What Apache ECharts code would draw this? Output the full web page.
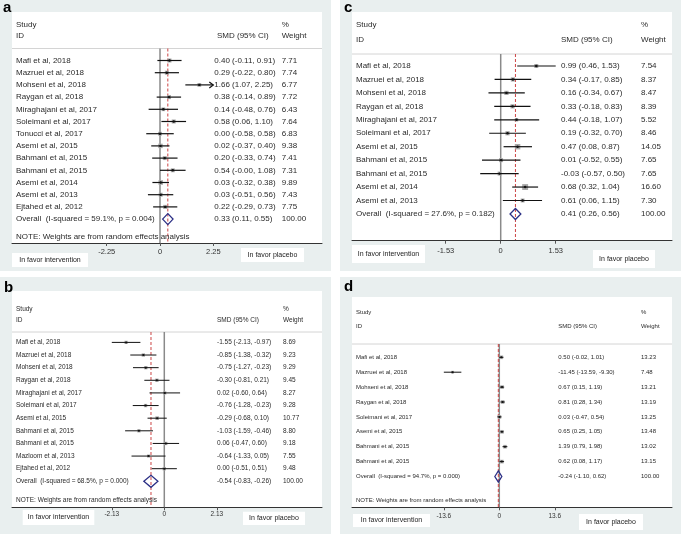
<!DOCTYPE html>
<html><head><meta charset="utf-8">
<script src="https://cdn.jsdelivr.net/npm/echarts@6/dist/echarts.min.js"></script>
<style>html,body{margin:0;padding:0;background:#fff}#c{width:681px;height:534px}</style>
</head><body><div id="c"></div>
<script>
// ---------- DATA ----------
const studiesA = ["Mafi et al, 2018","Mazruei et al, 2018","Mohseni et al, 2018","Raygan et al, 2018","Miraghajani et al, 2017","Soleimani et al, 2017","Tonucci et al, 2017","Asemi et al, 2015","Bahmani et al, 2015","Bahmani et al, 2015","Asemi et al, 2014","Asemi et al, 2013","Ejtahed et al, 2012"];
const smdA = [0.40,0.29,1.66,0.38,0.14,0.58,0.00,0.02,0.20,0.54,0.03,0.03,0.22];
const loA  = [-0.11,-0.22,1.07,-0.14,-0.48,0.06,-0.58,-0.37,-0.33,-0.00,-0.32,-0.51,-0.29];
const hiA  = [0.91,0.80,2.25,0.89,0.76,1.10,0.58,0.40,0.74,1.08,0.38,0.56,0.73];
const wA   = [7.71,7.74,6.77,7.72,6.43,7.64,6.83,9.38,7.41,7.31,9.89,7.43,7.75];
const overallA = [0.33,0.11,0.55];
const overallLabelA = "Overall  (I-squared = 59.1%, p = 0.004)";
const ticksA = [-2.25,0,2.25];

const studiesB = ["Mafi et al, 2018","Mazruei et al, 2018","Mohseni et al, 2018","Raygan et al, 2018","Miraghajani et al, 2017","Soleimani et al, 2017","Asemi et al, 2015","Bahmani et al, 2015","Bahmani et al, 2015","Mazloom et al, 2013","Ejtahed et al, 2012"];
const smdB = [-1.55,-0.85,-0.75,-0.30,0.02,-0.76,-0.29,-1.03,0.06,-0.64,0.00];
const loB  = [-2.13,-1.38,-1.27,-0.81,-0.60,-1.28,-0.68,-1.59,-0.47,-1.33,-0.51];
const hiB  = [-0.97,-0.32,-0.23,0.21,0.64,-0.23,0.10,-0.46,0.60,0.05,0.51];
const wB   = [8.69,9.23,9.29,9.45,8.27,9.28,10.77,8.80,9.18,7.55,9.48];
const overallB = [-0.54,-0.83,-0.26];
const overallLabelB = "Overall  (I-squared = 68.5%, p = 0.000)";
const ticksB = [-2.13,0,2.13];

const studiesC = ["Mafi et al, 2018","Mazruei et al, 2018","Mohseni et al, 2018","Raygan et al, 2018","Miraghajani et al, 2017","Soleimani et al, 2017","Asemi et al, 2015","Bahmani et al, 2015","Bahmani et al, 2015","Asemi et al, 2014","Asemi et al, 2013"];
const smdC = [0.99,0.34,0.16,0.33,0.44,0.19,0.47,0.01,-0.03,0.68,0.61];
const loC  = [0.46,-0.17,-0.34,-0.18,-0.18,-0.32,0.08,-0.52,-0.57,0.32,0.06];
const hiC  = [1.53,0.85,0.67,0.83,1.07,0.70,0.87,0.55,0.50,1.04,1.15];
const wC   = [7.54,8.37,8.47,8.39,5.52,8.46,14.05,7.65,7.65,16.60,7.30];
const overallC = [0.41,0.26,0.56];
const overallLabelC = "Overall  (I-squared = 27.6%, p = 0.182)";
const ticksC = [-1.53,0,1.53];

const studiesD = ["Mafi et al, 2018","Mazruei et al, 2018","Mohseni et al, 2018","Raygan et al, 2018","Soleimani et al, 2017","Asemi et al, 2015","Bahmani et al, 2015","Bahmani et al, 2015"];
const smdD = [0.50,-11.45,0.67,0.81,0.03,0.65,1.39,0.62];
const loD  = [-0.02,-13.59,0.15,0.28,-0.47,0.25,0.79,0.08];
const hiD  = [1.01,-9.30,1.19,1.34,0.54,1.05,1.98,1.17];
const wD   = [13.23,7.48,13.21,13.19,13.25,13.48,13.02,13.15];
const overallD = [-0.24,-1.10,0.62];
const overallLabelD = "Overall  (I-squared = 94.7%, p = 0.000)";
const ticksD = [-13.6,0,13.6];

const noteText = "NOTE: Weights are from random effects analysis";
const favLeft = "In favor intervention";
const favRight = "In favor placebo";

// ---------- LAYOUT ----------
const FONT = "Liberation Sans, Arial, sans-serif";
const panels = [
  {letter:'a', studies:studiesA, smd:smdA, lo:loA, hi:hiA, w:wA, ov:overallA, ovLabel:overallLabelA, ticks:ticksA, arrows:[2], note:true,
   L:{bg:[0,0,331,271], let:[3,8], box:[12,12,322,243], sepY:48.5, row0:60.5, step:12.2, zeroPx:160, mPx:53.3,
      nameX:16, smdX:214.3, smdHdrX:217, wX:281.7, h1:25, h2:36, font:8, tickFont:7.5, tickMargin:5, noteY:236.5,
      favL:[12,253,76,14], favR:[241,248,63,14], sq:1.45, dotR:1.2, lw:1.2, dH:5.5}},
  {letter:'b', studies:studiesB, smd:smdB, lo:loB, hi:hiB, w:wB, ov:overallB, ovLabel:overallLabelB, ticks:ticksB, arrows:[], note:true,
   L:{bg:[0,277,331,534], let:[4,288], box:[12,291,322,507.3], sepY:332, row0:342.4, step:12.63, zeroPx:164.3, mPx:52.5,
      nameX:16, smdX:217, smdHdrX:217, wX:283, h1:309, h2:320, font:6.5, tickFont:6.5, tickMargin:3, noteY:500.7,
      favL:[22.7,510,71.6,15], favR:[243,511.7,62,13.3], sq:1.1, dotR:1.0, lw:1.0, dH:6}},
  {letter:'c', studies:studiesC, smd:smdC, lo:loC, hi:hiC, w:wC, ov:overallC, ovLabel:overallLabelC, ticks:ticksC, arrows:[], note:false,
   L:{bg:[340,0,681,271], let:[344,8], box:[352,12,672,240.7], sepY:54, row0:66, step:13.45, zeroPx:500.7, mPx:55,
      nameX:356, smdX:561, smdHdrX:561, wX:641, h1:25, h2:39.3, font:8, tickFont:7.5, tickMargin:6,
      favL:[352,245,73,18], favR:[593,250,62,18], sq:1.45, dotR:1.2, lw:1.2, dH:5.5}},
  {letter:'d', studies:studiesD, smd:smdD, lo:loD, hi:hiD, w:wD, ov:overallD, ovLabel:overallLabelD, ticks:ticksD, arrows:[], note:true,
   L:{bg:[340,277,681,534], let:[344,287], box:[352,297,672,507.3], sepY:344, row0:357.3, step:14.9, zeroPx:499.3, mPx:55.5,
      nameX:356, smdX:558.3, smdHdrX:558.3, wX:641, h1:312.7, h2:326.7, font:6, tickFont:6.5, tickMargin:5, noteY:500,
      favL:[353,514,77,13], favR:[579,514,64,16], sq:1.0, dotR:1.0, lw:1.0, dH:5.5}}
];

const TXT = '#2a2a2a';
function f2(v){ if (Object.is(v,-0)) return '-0.00'; return v.toFixed(2); }
function txt(text,x,y,size,extra){
  return Object.assign({type:'text', x:x, y:y, z:5, style:{text:text, fill:TXT, fontSize:size, fontFamily:FONT, verticalAlign:'middle', align:'left'}}, extra||{});
}

const grids=[], xAxes=[], yAxes=[], series=[], graphics=[];

panels.forEach((P,pi)=>{
  const L=P.L;
  const M=P.ticks[2];
  const unit=L.mPx/M;
  const bx0=L.box[0], by0=L.box[1], bx1=L.box[2], by1=L.box[3];
  grids.push({left:bx0, top:L.sepY, width:bx1-bx0, height:by1-L.sepY});
  xAxes.push({type:'value', gridIndex:pi, z:6, min:(bx0-L.zeroPx)/unit, max:(bx1-L.zeroPx)/unit,
    axisLine:{show:true, onZero:false, lineStyle:{color:'#333', width:1}},
    axisTick:{show:true, customValues:P.ticks, length:3, inside:false, lineStyle:{color:'#555'}},
    axisLabel:{show:true, customValues:P.ticks, margin:L.tickMargin, fontSize:L.tickFont, fontFamily:FONT, color:'#333',
      formatter:v=>String(P.ticks.find(t=>Math.abs(t-v)<1e-6) ?? v)},
    splitLine:{show:false}});
  yAxes.push({type:'value', gridIndex:pi, inverse:true, show:false, splitLine:{show:false},
    axisLine:{show:false, onZero:false},
    min:(L.sepY-L.row0)/L.step, max:(by1-L.row0)/L.step});

  // backgrounds and decorations
  graphics.push({type:'rect', z:0, shape:{x:L.bg[0], y:L.bg[1], width:L.bg[2]-L.bg[0], height:L.bg[3]-L.bg[1]}, style:{fill:'#e9efef'}});
  graphics.push({type:'rect', z:1, shape:{x:bx0, y:by0, width:bx1-bx0, height:by1-by0}, style:{fill:'#ffffff'}});
  graphics.push({type:'line', z:2, shape:{x1:bx0, y1:L.sepY, x2:bx1, y2:L.sepY}, style:{stroke:'#d4d4d4', lineWidth:1}});
  graphics.push(txt(P.letter, L.let[0], L.let[1], 15, {style:{text:P.letter, fill:'#000', fontSize:15, fontWeight:'bold', fontFamily:FONT, verticalAlign:'middle', align:'left'}}));
  graphics.push(txt('Study', L.nameX, L.h1, L.font));
  graphics.push(txt('ID', L.nameX, L.h2, L.font));
  graphics.push(txt('SMD (95% CI)', L.smdHdrX, L.h2, L.font));
  graphics.push(txt('%', L.wX, L.h1, L.font));
  graphics.push(txt('Weight', L.wX, L.h2, L.font));
  if (P.note) graphics.push(txt(noteText, L.nameX, L.noteY, L.font));
  [[L.favL,favLeft],[L.favR,favRight]].forEach(([r,t])=>{
    graphics.push({type:'rect', z:2, shape:{x:r[0], y:r[1], width:r[2], height:r[3]}, style:{fill:'#ffffff'}});
    graphics.push({type:'text', z:5, x:r[0]+r[2]/2, y:r[1]+r[3]/2, style:{text:t, fill:'#222', fontSize:7, fontFamily:FONT, align:'center', verticalAlign:'middle'}});
  });

  // reference lines (zero + overall)
  series.push({type:'custom', xAxisIndex:pi, yAxisIndex:pi, z:3, silent:true,
    encode:{x:0, y:1},
    data:[[0,0,0],[P.ov[0],0,1]],
    renderItem:(params,api)=>{
      const x=api.coord([api.value(0),0])[0];
      const cs=params.coordSys;
      const isOv=api.value(2)===1;
      return {type:'line', shape:{x1:x, y1:cs.y, x2:x, y2:cs.y+cs.height},
        style: isOv ? {stroke:'#cc4444', lineWidth:1, lineDash:[3,2]} : {stroke:'#8a8a8a', lineWidth:1.5}};
    }});

  // studies
  const data=P.studies.map((s,i)=>[P.smd[i], i, P.lo[i], P.hi[i], P.w[i], i]);
  series.push({type:'custom', xAxisIndex:pi, yAxisIndex:pi, z:4, silent:true,
    encode:{x:[0,2,3], y:1},
    data:data,
    renderItem:(params,api)=>{
      const est=api.value(0), row=api.value(1), lo=api.value(2), hi=api.value(3), w=api.value(4), idx=api.value(5);
      const c=api.coord([est,row]), a=api.coord([lo,row]), b=api.coord([hi,row]);
      const y=c[1];
      const s=L.sq*Math.sqrt(w);
      const ch=[
        {type:'rect', shape:{x:c[0]-s/2, y:y-s/2, width:s, height:s}, style:{fill:'#a9a9a9'}},
        {type:'line', shape:{x1:a[0], y1:y, x2:b[0], y2:y}, style:{stroke:'#111', lineWidth:L.lw}},
        {type:'circle', shape:{cx:c[0], cy:y, r:L.dotR}, style:{fill:'#111'}},
        {type:'text', x:L.nameX, y:y, style:{text:P.studies[idx], fill:TXT, fontSize:L.font, fontFamily:FONT, verticalAlign:'middle'}},
        {type:'text', x:L.smdX, y:y, style:{text:f2(est)+' ('+f2(lo)+', '+f2(hi)+')', fill:TXT, fontSize:L.font, fontFamily:FONT, verticalAlign:'middle'}},
        {type:'text', x:L.wX, y:y, style:{text:w.toFixed(2), fill:TXT, fontSize:L.font, fontFamily:FONT, verticalAlign:'middle'}}
      ];
      if (P.arrows.indexOf(idx)>=0){
        ch.push({type:'polyline', shape:{points:[[b[0]-4,y-3],[b[0],y],[b[0]-4,y+3]]}, style:{stroke:'#111', lineWidth:L.lw, fill:null}});
      }
      return {type:'group', children:ch};
    }});

  // overall diamond
  const n=P.studies.length;
  series.push({type:'custom', xAxisIndex:pi, yAxisIndex:pi, z:5, silent:true,
    encode:{x:[0,2,3], y:1},
    data:[[P.ov[0], n, P.ov[1], P.ov[2], 100]],
    renderItem:(params,api)=>{
      const est=api.value(0), row=api.value(1), lo=api.value(2), hi=api.value(3), w=api.value(4);
      const c=api.coord([est,row]), a=api.coord([lo,row]), b=api.coord([hi,row]);
      const y=c[1], h=L.dH;
      return {type:'group', children:[
        {type:'polygon', shape:{points:[[a[0],y],[c[0],y-h],[b[0],y],[c[0],y+h]]}, style:{stroke:'#2b2f85', lineWidth:1.3, fill:'rgba(255,255,255,0)'}},
        {type:'text', x:L.nameX, y:y, style:{text:P.ovLabel, fill:TXT, fontSize:L.font, fontFamily:FONT, verticalAlign:'middle'}},
        {type:'text', x:L.smdX, y:y, style:{text:f2(est)+' ('+f2(lo)+', '+f2(hi)+')', fill:TXT, fontSize:L.font, fontFamily:FONT, verticalAlign:'middle'}},
        {type:'text', x:L.wX, y:y, style:{text:w.toFixed(2), fill:TXT, fontSize:L.font, fontFamily:FONT, verticalAlign:'middle'}}
      ]};
    }});
});

const chart=echarts.init(document.getElementById('c'), null, {renderer:'canvas'});
chart.setOption({
  animation:false,
  backgroundColor:'#ffffff',
  grid:grids, xAxis:xAxes, yAxis:yAxes, series:series,
  graphic:{elements:graphics}
});
</script></body></html>
